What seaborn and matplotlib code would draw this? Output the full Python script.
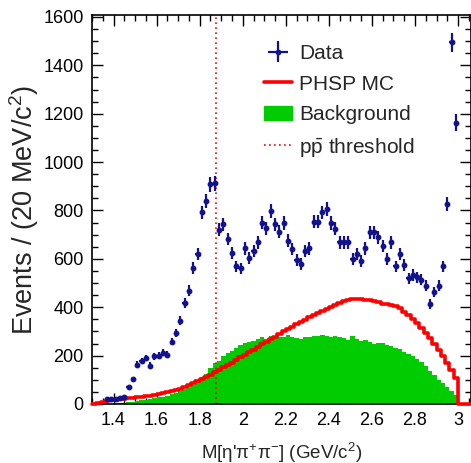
import numpy as np
import pandas as pd
import matplotlib
matplotlib.use("Agg")
import matplotlib.pyplot as plt
from matplotlib.ticker import MultipleLocator
from matplotlib.lines import Line2D
from matplotlib.patches import Patch
import seaborn as sns

# ---------------- data ----------------
bin_width = 0.02
data_start = 1.37
events = [19, 20, 22, 26, 31, 72, 102, 163, 177, 190, 159, 198, 200, 211, 203,
          258, 294, 345, 416, 469, 562, 620, 792, 840, 908, 912, 720, 743, 682,
          624, 569, 561, 643, 603, 633, 668, 750, 726, 798, 743, 712, 748, 675,
          640, 596, 578, 633, 643, 753, 753, 792, 805, 748, 724, 668, 668, 668,
          599, 620, 592, 643, 709, 709, 689, 654, 599, 668, 569, 620, 574, 520,
          533, 524, 514, 489, 414, 462, 489, 569, 826, 1495, 1163]

hist_start = 1.30
hist_end = 3.06
phsp_mc = [2, 5, 8, 11, 15, 17, 19, 22, 24, 26, 28, 30, 33, 35, 38, 41, 45, 49,
           53, 58, 63, 70, 78, 86, 95, 103, 112, 121, 131, 141, 151, 161, 171,
           182, 193, 203, 214, 224, 235, 246, 257, 268, 279, 290, 300, 311, 320,
           330, 340, 349, 358, 367, 376, 386, 394, 402, 411, 418, 425, 430, 432,
           433, 432, 430, 429, 425, 420, 415, 412, 408, 404, 395, 381, 367, 350,
           333, 315, 295, 273, 250, 225, 198, 170, 140, 108, 0, 0, 0]
background = [0, 0, 0, 1, 2, 2, 3, 5, 7, 10, 13, 15, 18, 20, 24, 27, 30, 35, 40,
              45, 52, 60, 70, 80, 95, 110, 125, 150, 168, 178, 200, 210, 220,
              232, 245, 252, 255, 262, 270, 276, 268, 280, 282, 276, 279, 284,
              275, 272, 270, 278, 276, 280, 283, 286, 280, 276, 282, 276, 272,
              266, 281, 270, 262, 265, 258, 249, 252, 253, 245, 240, 232, 226,
              215, 208, 198, 187, 175, 159, 135, 118, 100, 88, 72, 55, 38, 0, 0, 0]

threshold = 1.876  # p pbar threshold, GeV/c^2

x_ticks = [1.4, 1.6, 1.8, 2.0, 2.2, 2.4, 2.6, 2.8, 3.0]
x_tick_labels = ["1.4", "1.6", "1.8", "2", "2.2", "2.4", "2.6", "2.8", "3"]
y_ticks = [0, 200, 400, 600, 800, 1000, 1200, 1400, 1600]

# ---------------- derived tables ----------------
data_centers = np.round(data_start + bin_width * np.arange(len(events)), 3)
events = np.array(events, dtype=float)
df_data = pd.DataFrame({"mass": data_centers, "events": events,
                        "err": np.sqrt(events)})

hist_centers = np.round(hist_start + bin_width * (np.arange(len(phsp_mc)) + 0.5), 3)
df_hist = pd.DataFrame({"mass": hist_centers,
                        "phsp": np.array(phsp_mc, dtype=float),
                        "bkg": np.array(background, dtype=float)})

# ---------------- style ----------------
sns.set_style("ticks")
plt.rcParams["font.family"] = ["Liberation Sans", "DejaVu Sans"]
plt.rcParams["mathtext.fontset"] = "custom"
plt.rcParams["mathtext.rm"] = "Liberation Sans"
plt.rcParams["mathtext.it"] = "Liberation Sans:italic"

W, H = 471, 463
fig = plt.figure(figsize=(W / 100, H / 100), dpi=100)
ax = fig.add_axes([92 / W, 59 / H, 379 / W, 389 / H])

navy = "#12128f"
green = "#00cc00"
red = "#ff0000"

# background (filled step histogram)
sns.histplot(data=df_hist, x="mass", weights="bkg", binwidth=bin_width,
             binrange=(hist_start, hist_end), element="step",
             fill=True, color=green, alpha=1.0, linewidth=0, ax=ax, zorder=1)
# PHSP MC (red step line)
sns.histplot(data=df_hist, x="mass", weights="phsp", binwidth=bin_width,
             binrange=(hist_start, hist_end), element="step",
             fill=False, color=red, linewidth=2.6, ax=ax, zorder=3)
for ln in ax.lines:
    ln.set_clip_on(False)

# p pbar threshold
ax.axvline(threshold, color=red, linestyle=(0, (1, 2)), linewidth=1.2, zorder=2)

# data points
ax.errorbar(df_data["mass"], df_data["events"], yerr=df_data["err"],
            xerr=bin_width / 2, fmt="o", color=navy, markersize=3.2,
            elinewidth=1.6, capsize=0, zorder=4, label="Data")

ax.set_xlim(hist_start, hist_end)
ax.set_ylim(0, 1608)
ax.set_xticks(x_ticks)
ax.set_xticklabels(x_tick_labels)
ax.set_yticks(y_ticks)
ax.xaxis.set_minor_locator(MultipleLocator(0.05))
ax.yaxis.set_minor_locator(MultipleLocator(50))
ax.tick_params(which="both", direction="in", top=True, right=True,
               labelsize=13, colors="black", width=1.0)
ax.tick_params(which="major", length=8, pad=6)
ax.tick_params(which="minor", length=4)
ax.set_axisbelow(True)
for s in ax.spines.values():
    s.set_linewidth(1.2)
    s.set_color("black")

ax.set_xlabel(r"M[η'π$^{+}$π$^{-}$] (GeV/c$^{2}$)", fontsize=13.5, labelpad=8)
ax.set_ylabel(r"Events / (20 MeV/c$^{2}$)", fontsize=19.5, labelpad=2)

err_handle = [c for c in ax.containers if c.get_label() == "Data"]
handles = [
    err_handle[0] if err_handle else Line2D([], [], color=navy, marker="+"),
    Line2D([], [], color=red, linewidth=2.6),
    Patch(facecolor=green, edgecolor=green),
    Line2D([], [], color=red, linestyle=(0, (1, 2)), linewidth=1.2),
]
labels = ["Data", "PHSP MC", "Background", r"p$\bar{\mathrm{p}}$ threshold"]
leg = ax.legend(handles, labels, loc="upper left", bbox_to_anchor=(0.455, 0.925),
                frameon=False, fontsize=15, handlelength=1.3, handletextpad=0.35,
                labelspacing=0.55, borderpad=0, borderaxespad=0)

fig.savefig("out.png", dpi=100)
